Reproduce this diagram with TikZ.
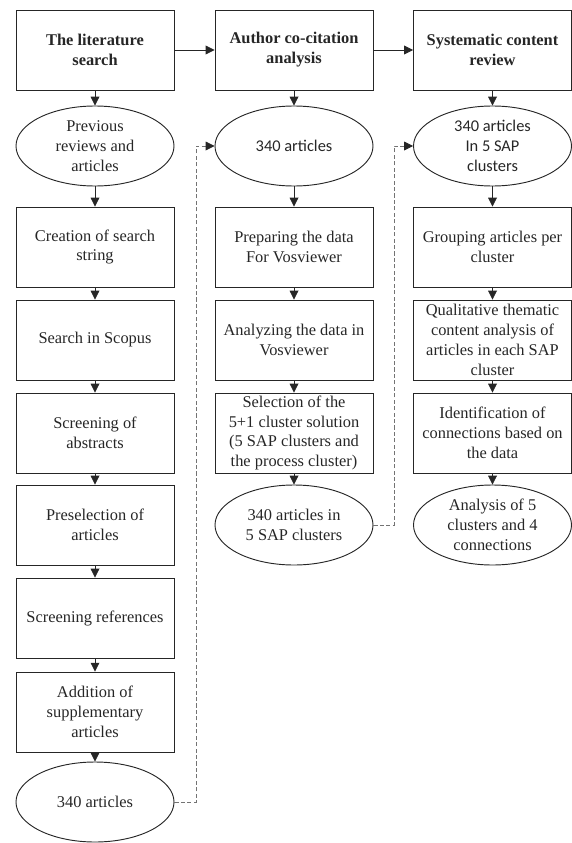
\documentclass[tikz,border=0pt]{standalone}
\usepackage{fontspec}
\setmainfont{Liberation Serif}
\newfontfamily\calfont{Carlito}
\usetikzlibrary{arrows.meta,shapes.geometric}
\tikzset {>={Triangle[length=7.5pt,width=7.5pt]}}
\tikzset{
  stage/.style={draw=black!85,line width=0.8pt,minimum width=4.74cm,minimum height=2.4cm,
    inner sep=1pt,align=center,text=black!85,font=\fontsize{14}{17}\selectfont},
  head/.style={stage,font=\fontsize{14}{17}\selectfont\bfseries},
  result/.style={stage,ellipse,inner sep=0pt},
  link/.style={->,line width=0.7pt,draw=black!85},
  feed/.style={-{Triangle[length=7.5pt,width=7.5pt,color=black!85]},draw=black!55,
    line width=0.7pt,dash pattern=on 3.5pt off 2pt}
}

\begin{document}
\begin{tikzpicture}[x=0.03cm,y=-0.03cm]
\useasboundingbox (0,0) rectangle (572,843);

\node[head] (h1) at (95,50) {The literature\\search};
\node[head] (h2) at (294,50) {Author co-citation\\analysis};
\node[head] (h3) at (492.5,50) {Systematic content\\review};

\node[result] (p1) at (95,146) {Previous\\reviews and\\articles};
\node[stage] (s1) at (95,247) {Creation of search\\string};
\node[stage] (s2) at (95,340) {Search in Scopus};
\node[stage] (s3) at (95,433) {Screening of\\abstracts};
\node[stage] (s4) at (95,525) {Preselection of\\articles};
\node[stage] (s5) at (95,618) {Screening references};
\node[stage] (s6) at (95,712) {Addition of\\supplementary\\articles};
\node[result] (r1) at (95,802) {340 articles};

\node[result,font=\fontsize{14}{17}\calfont] (p2) at (294,146) {340 articles};
\node[stage] (a1) at (294,247) {Preparing the data\\For Vosviewer};
\node[stage] (a2) at (294,340) {Analyzing the data in\\Vosviewer};
\node[stage] (a3) at (294,433) {Selection of the\\5+1 cluster solution\\(5 SAP clusters and\\the process cluster)};
\node[result] (r2) at (294,525) {340 articles in\\5 SAP clusters};

\node[result,font=\fontsize{14}{17}\calfont] (p3) at (492.5,146) {340 articles\\In 5 SAP\\clusters};
\node[stage] (c1) at (492.5,247) {Grouping articles per\\cluster};
\node[stage] (c2) at (492.5,340) {Qualitative thematic\\content analysis of\\articles in each SAP\\cluster};
\node[stage] (c3) at (492.5,433) {Identification of\\connections based on\\the data};
\node[result] (r3) at (492.5,525) {Analysis of 5\\clusters and 4\\connections};

\draw[link] (h1) -- (h2);
\draw[link] (h2) -- (h3);

\draw[link] (h1) -- (p1);
\draw[link] (p1) -- (s1);
\draw[link] (s1) -- (s2);
\draw[link] (s2) -- (s3);
\draw[link] (s3) -- (s4);
\draw[link] (s4) -- (s5);
\draw[link] (s5) -- (s6);
\draw[link] (s6) -- (r1);

\draw[link] (h2) -- (p2);
\draw[link] (p2) -- (a1);
\draw[link] (a1) -- (a2);
\draw[link] (a2) -- (a3);
\draw[link] (a3) -- (r2);

\draw[link] (h3) -- (p3);
\draw[link] (p3) -- (c1);
\draw[link] (c1) -- (c2);
\draw[link] (c2) -- (c3);
\draw[link] (c3) -- (r3);

\draw[feed] (r1.east) -| (196,146) -- (p2.west);
\draw[feed] (r2.east) -| (394,146) -- (p3.west);
\end{tikzpicture}
\end{document}
